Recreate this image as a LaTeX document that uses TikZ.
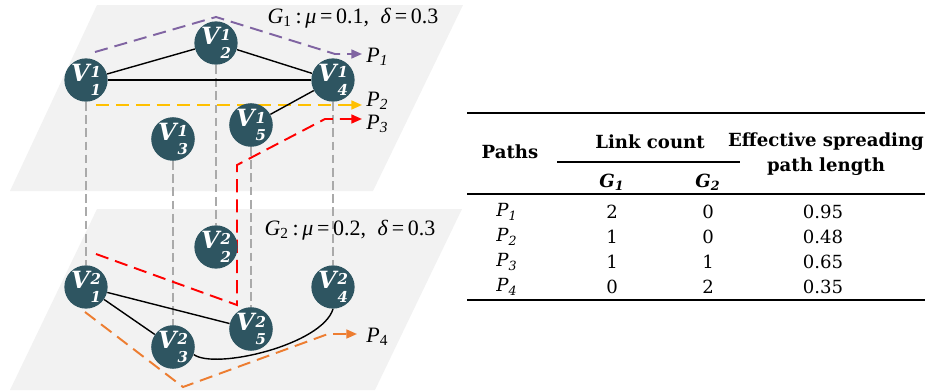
\documentclass[tikz,border=0pt]{standalone}
\usepackage{fontspec}
\setmainfont{Liberation Serif}
\newfontfamily\tabfont{DejaVu Serif}
\usetikzlibrary{arrows.meta,backgrounds}
\definecolor{nodefill}{HTML}{2E5561}
\definecolor{planefill}{HTML}{F2F2F2}
\definecolor{pone}{HTML}{8064A2}
\definecolor{ptwo}{HTML}{FFC000}
\definecolor{pthree}{HTML}{FF0000}
\definecolor{pfour}{HTML}{ED7D31}
\definecolor{vgray}{HTML}{AAAAAA}
\newcommand{\vlab}[2]{{\tabfont\bfseries\itshape V\kern0.6pt\raisebox{-1.15ex}{\fontsize{8.5}{9}\selectfont\shortstack[l]{#1\\[0.8pt]#2}}}}
\newcommand{\plab}[1]{\textit{P}\textsubscript{\textit{#1}}}
\begin{document}
\begin{tikzpicture}[x=0.02cm,y=-0.02cm,
  vnode/.style={circle,fill=nodefill,text=white,inner sep=0pt,minimum size=0.68cm,font=\fontsize{13.5}{14}\selectfont},
  plane/.style={fill=planefill,draw=none},
  vline/.style={draw=vgray,line width=0.6pt,dash pattern=on 5pt off 2.5pt},
  edge/.style={draw=black,line width=0.8pt},
  ppath/.style={line width=1.1pt,dash pattern=on 7.5pt off 4pt,-{Triangle[length=6pt,width=5pt]}},
  plabel/.style={anchor=west,inner sep=0pt,font=\fontsize{12.5}{14}\selectfont},
  glabel/.style={anchor=center,inner sep=0pt,font=\fontsize{12.5}{14}\selectfont},
  tcell/.style={anchor=center,inner sep=0pt,font=\tabfont\fontsize{10.3}{12}\selectfont},
  thead/.style={anchor=center,inner sep=0pt,font=\tabfont\bfseries\fontsize{10.3}{12}\selectfont},
  thickrule/.style={line width=1.6pt},
  thinrule/.style={line width=1.0pt}]
\useasboundingbox (0,0) rectangle (933,392);
% nodes
\node[vnode] (v11) at (86,80) {\vlab{1}{1}};
\node[vnode] (v12) at (216,43) {\vlab{1}{2}};
\node[vnode] (v13) at (173,139) {\vlab{1}{3}};
\node[vnode] (v14) at (333,80) {\vlab{1}{4}};
\node[vnode] (v15) at (251,125) {\vlab{1}{5}};
\node[vnode] (v21) at (86,287) {\vlab{2}{1}};
\node[vnode] (v22) at (216,247) {\vlab{2}{2}};
\node[vnode] (v23) at (173,347) {\vlab{2}{3}};
\node[vnode] (v24) at (333,287) {\vlab{2}{4}};
\node[vnode] (v25) at (251,329) {\vlab{2}{5}};
% path coordinates
\coordinate (a1) at (95,52);
\coordinate (a2) at (216,17);
\coordinate (a3) at (335,54);
\coordinate (a4) at (362,54);
\coordinate (b1) at (96,105);
\coordinate (b2) at (362,105);
\coordinate (c1) at (96,254);
\coordinate (c2) at (237,305);
\coordinate (c3) at (237,165);
\coordinate (c4) at (325,119);
\coordinate (c5) at (362,119);
\coordinate (d1) at (85,312);
\coordinate (d2) at (183,387);
\coordinate (d3) at (328,334);
\coordinate (d4) at (357,334);
\begin{pgfonlayer}{background}
% planes
\path[plane] (97,5) -- (463,5) -- (373,191) -- (10,191) -- cycle;
\path[plane] (97,209) -- (462,209) -- (375,390) -- (10,390) -- cycle;
% vertical dashed links
\draw[vline] (v11) -- (v21);
\draw[vline] (v12) -- (v22);
\draw[vline] (v13) -- (v23);
\draw[vline] (v15) -- (v25);
\draw[vline] (v14) -- (v24);
% paths
\draw[ppath,pone] (a1) -- (a2) -- (a3) -- (a4);
\draw[ppath,ptwo] (b1) -- (b2);
\draw[ppath,pthree] (c1) -- (c2) -- (c3) -- (c4) -- (c5);
\draw[ppath,pfour] (d1) -- (d2) -- (d3) -- (d4);
% edges
\draw[edge] (v11) -- (v12);
\draw[edge] (v12) -- (v14);
\draw[edge] (v11) -- (v14);
\draw[edge] (v14) -- (v15);
\draw[edge] (v21) -- (v25);
\draw[edge] (v21) -- (v23);
\draw[edge] (v23.-20) .. controls (215,370) and (322,345) .. (v24.-90);
\end{pgfonlayer}
% path labels
\node[plabel] (lp1) at (366,57) {\plab{1}};
\node[plabel] (lp2) at (366,101) {\plab{2}};
\node[plabel] (lp3) at (366,124) {\plab{3}};
\node[plabel] (lp4) at (366,337) {\textit{P}\textsubscript{4}};
% graph labels
\node[glabel] (g1) at (353,18) {\textit{G}\textsubscript{1}\,:\,\textit{μ}\,=\,0.1,\; \textit{δ}\,=\,0.3};
\node[glabel] (g2) at (350,230) {\textit{G}\textsubscript{2}\,:\,\textit{μ}\,=\,0.2,\; \textit{δ}\,=\,0.3};
% table
\draw[thickrule] (467,113) -- (925,113);
\draw[thinrule] (557,162) -- (740,162);
\draw[thinrule] (467,194) -- (925,194);
\draw[thickrule] (467,300) -- (925,300);
\node[thead] (hpaths) at (510,152) {Paths};
\node[thead] (hlink) at (650,142) {Link count};
\node[thead] (heff) at (826,142) {Effective spreading};
\node[thead] (hpl) at (826,167) {path length};
\node[thead] (hg1) at (612,182) {\itshape G\textsubscript{1}};
\node[thead] (hg2) at (708,182) {\itshape G\textsubscript{2}};
\node[tcell] (r1p) at (507,212) {\itshape P\textsubscript{1}};
\node[tcell] (r2p) at (507,237) {\itshape P\textsubscript{2}};
\node[tcell] (r3p) at (507,262) {\itshape P\textsubscript{3}};
\node[tcell] (r4p) at (507,287) {\itshape P\textsubscript{4}};
\node[tcell] (r1a) at (612,212) {2};
\node[tcell] (r2a) at (612,237) {1};
\node[tcell] (r3a) at (612,262) {1};
\node[tcell] (r4a) at (612,287) {0};
\node[tcell] (r1b) at (708,212) {0};
\node[tcell] (r2b) at (708,237) {0};
\node[tcell] (r3b) at (708,262) {1};
\node[tcell] (r4b) at (708,287) {2};
\node[tcell] (r1c) at (823,212) {0.95};
\node[tcell] (r2c) at (823,237) {0.48};
\node[tcell] (r3c) at (823,262) {0.65};
\node[tcell] (r4c) at (823,287) {0.35};
\end{tikzpicture}
\end{document}
